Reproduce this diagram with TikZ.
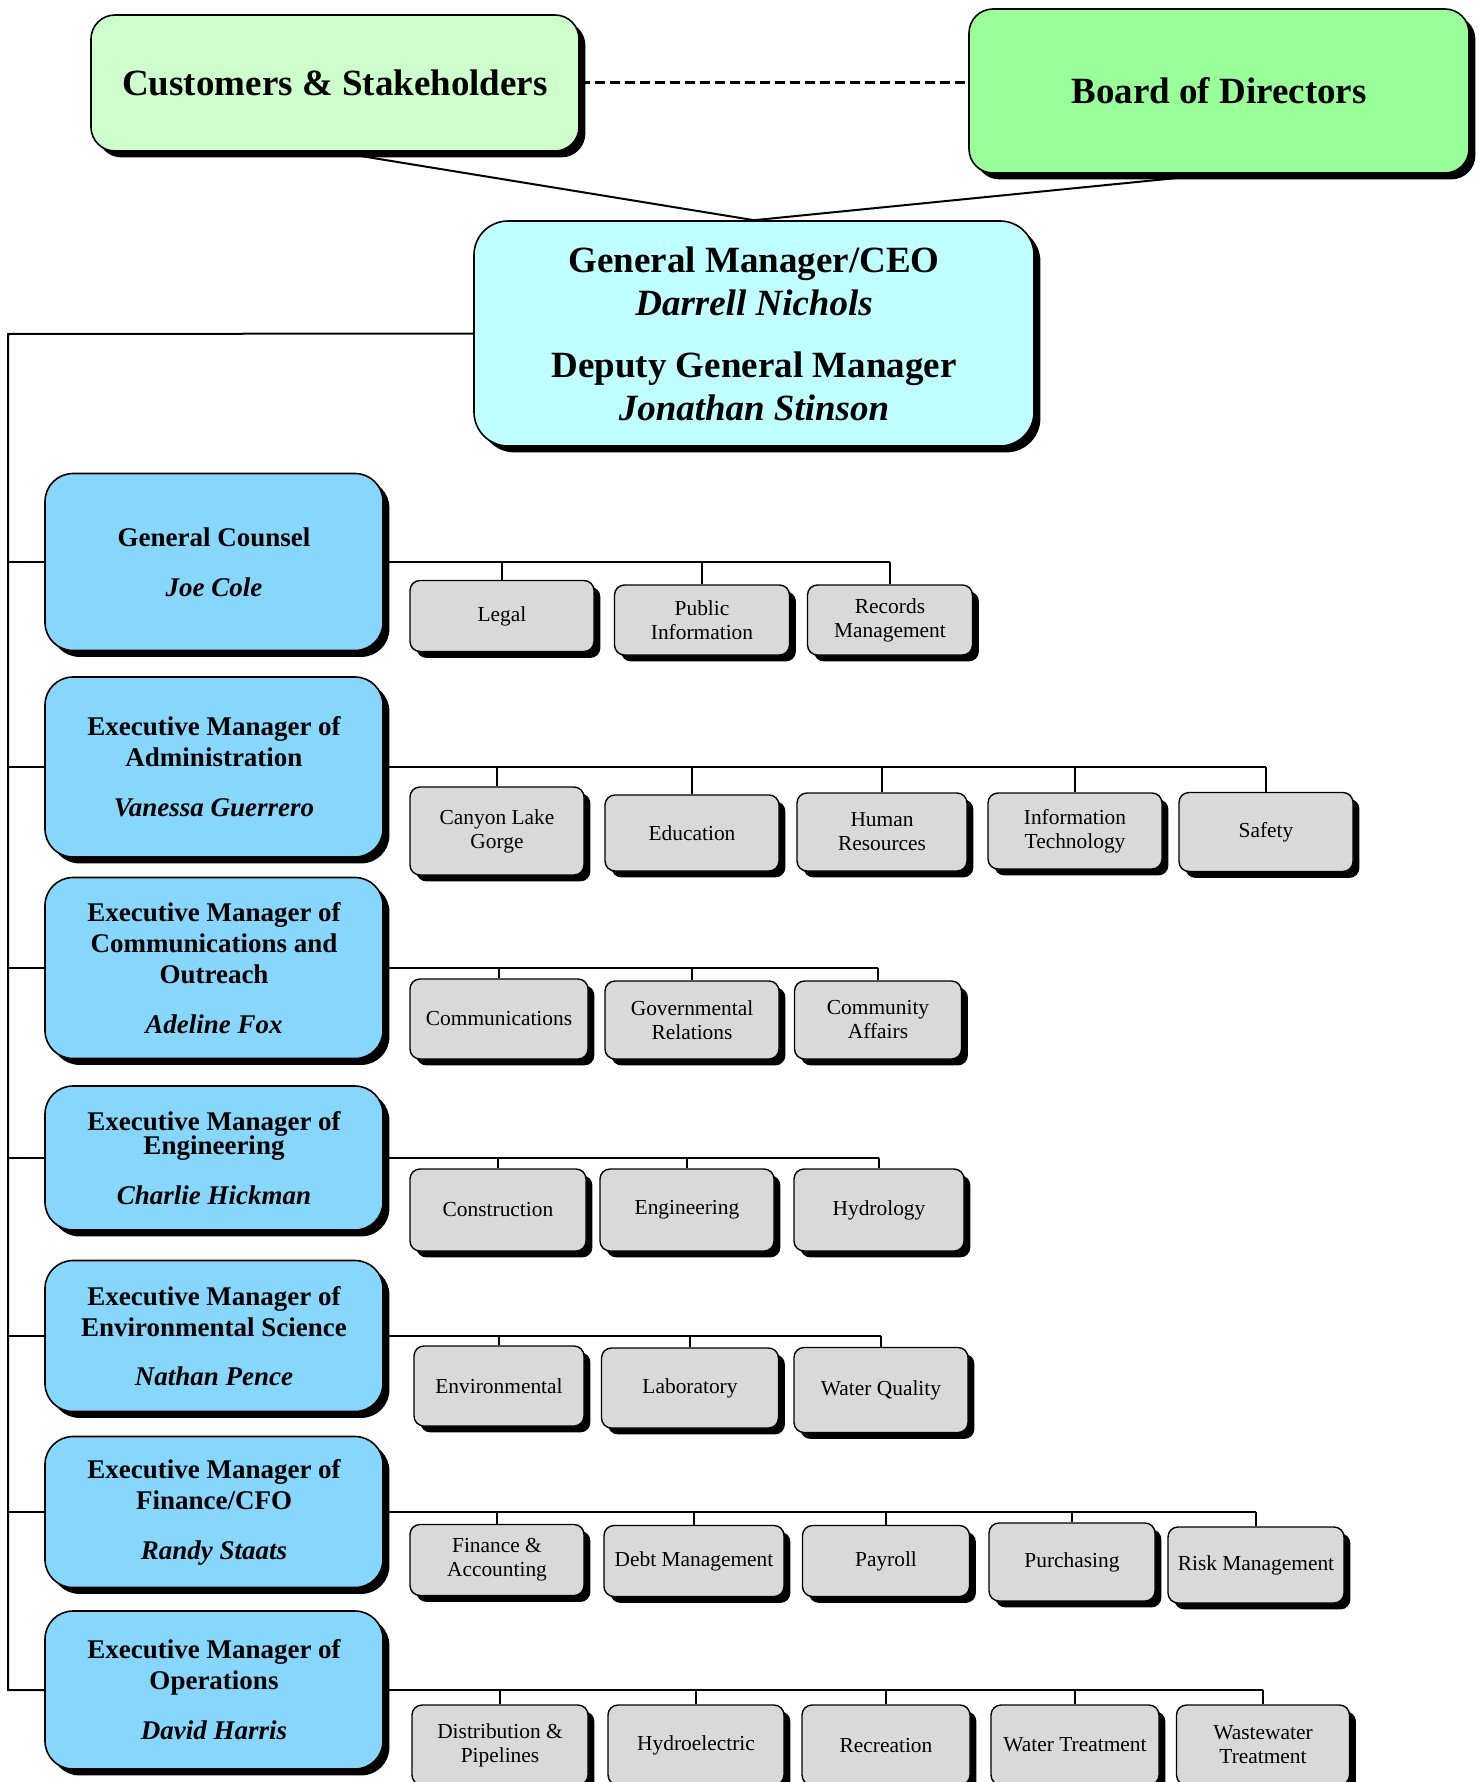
\documentclass[tikz,border=0pt]{standalone}
\usepackage{fontspec}
\setmainfont{Liberation Serif}
\usetikzlibrary{shadows,backgrounds}

\definecolor{custgreen}{HTML}{CCFFCC}
\definecolor{boardgreen}{HTML}{99FF99}
\definecolor{gmcyan}{HTML}{C0FFFF}
\definecolor{execblue}{HTML}{87D7FD}
\definecolor{unitgray}{HTML}{D9D9D9}

\tikzset{
  shadowed/.style={drop shadow={shadow xshift=3.2pt,shadow yshift=-3.2pt,opacity=1,fill=black}},
  topbox/.style={draw,line width=.8pt,rounded corners=12pt,shadowed,
    font=\bfseries\fontsize{18.5}{21.5}\selectfont},
  gmbox/.style={draw,line width=.8pt,rounded corners=17pt,shadowed,fill=gmcyan,
    align=center,font=\bfseries\fontsize{18.5}{21.5}\selectfont},
  execbox/.style={draw,line width=.8pt,rounded corners=14pt,shadowed,fill=execblue,
    align=center,minimum width=169pt,font=\bfseries\fontsize{13.5}{15.5}\selectfont},
  unitbox/.style={draw,line width=.7pt,rounded corners=5pt,shadowed,fill=unitgray,
    align=center,minimum width=87pt,font=\fontsize{10.7}{12}\selectfont},
  link/.style={line width=1pt}
}

\begin{document}
\begin{tikzpicture}[x=.5pt,y=-.5pt]
  \useasboundingbox (0,0) rectangle (1478,1782);
  \clip (0,0) rectangle (1478,1782);

  \node[topbox,fill=custgreen,minimum width=244pt,minimum height=68pt]
    (cust) at (335,83) {Customers \& Stakeholders};
  \node[topbox,fill=boardgreen,minimum width=250pt,minimum height=82pt]
    (board) at (1219,91) {Board of Directors};
  \node[gmbox,minimum width=280pt,minimum height=112.5pt] (gm) at (754,333.5)
    {General Manager/CEO\\\textit{Darrell Nichols}\\[9.5pt]
     Deputy General Manager\\\textit{Jonathan Stinson}};

  \draw[line width=1.5pt,dash pattern=on 5pt off 2.5pt] (cust.east) -- (cust.east -| board.west);
  \begin{scope}[on background layer]
    \draw[link] (cust.south) -- (gm.north);
    \draw[link] (board.south) -- (gm.north);
  \end{scope}

  % executive managers
  \node[execbox,minimum height=88.5pt] (gc) at (214,562)
    {General Counsel\\[9.5pt]\textit{Joe Cole}};
  \node[execbox,minimum height=90pt] (adm) at (214,767)
    {Executive Manager of\\Administration\\[9.5pt]\textit{Vanessa Guerrero}};
  \node[execbox,minimum height=90.5pt] (com) at (214,968)
    {Executive Manager of\\Communications and\\Outreach\\[9.5pt]\textit{Adeline Fox}};
  \node[execbox,minimum height=72pt] (eng) at (214,1158)
    {Executive Manager of\\[-3.5pt]Engineering\\[9.5pt]\textit{Charlie Hickman}};
  \node[execbox,minimum height=75.5pt] (env) at (214,1336)
    {Executive Manager of\\Environmental Science\\[9pt]\textit{Nathan Pence}};
  \node[execbox,minimum height=75.5pt] (fin) at (214,1512)
    {Executive Manager of\\Finance/CFO\\[9.5pt]\textit{Randy Staats}};
  \node[execbox,minimum height=79pt] (ops) at (214,1690)
    {Executive Manager of\\Operations\\[9.5pt]\textit{David Harris}};

  \coordinate (trunk) at (8,334);
  \draw[link] (gm.west) -- (trunk) -- (trunk |- ops.west) -- (ops.west);
  \foreach \e in {gc,adm,com,eng,env,fin}
    \draw[link] (trunk |- \e.west) -- (\e.west);

  % units
  \node[unitbox,minimum width=92pt,minimum height=35.5pt] (legal) at (502,616) {Legal};
  \node[unitbox,minimum width=87.5pt,minimum height=35pt] (pubinfo) at (702,620) {Public\\Information};
  \node[unitbox,minimum width=82.5pt,minimum height=35pt] (records) at (890,620) {Records\\Management};

  \node[unitbox,minimum height=44pt] (canyon) at (497,831) {Canyon Lake\\Gorge};
  \node[unitbox,minimum height=38pt] (edu) at (692,833) {Education};
  \node[unitbox,minimum width=85pt,minimum height=39pt] (hr) at (882,832) {Human\\Resources};
  \node[unitbox,minimum height=38pt] (it) at (1075,831) {Information\\Technology};
  \node[unitbox,minimum height=39.5pt] (safety) at (1266,832) {Safety};

  \node[unitbox,minimum width=89pt,minimum height=40pt] (comms) at (499,1019) {Communications};
  \node[unitbox,minimum height=39pt] (gov) at (692,1020) {Governmental\\Relations};
  \node[unitbox,minimum width=83.5pt,minimum height=39pt] (affairs) at (878,1020) {Community\\Affairs};

  \node[unitbox,minimum width=88pt,minimum height=41pt] (constr) at (498,1210) {Construction};
  \node[unitbox,minimum height=41pt] (engr) at (687,1210) {Engineering};
  \node[unitbox,minimum width=85pt,minimum height=41pt] (hydro) at (879,1210) {Hydrology};

  \node[unitbox,minimum width=85pt,minimum height=40pt] (envr) at (499,1386) {Environmental};
  \node[unitbox,minimum width=88.5pt,minimum height=40pt] (lab) at (690,1388) {Laboratory};
  \node[unitbox,minimum height=42.5pt] (wq) at (881,1390) {Water Quality};

  \node[unitbox,minimum height=35.5pt] (finacc) at (497,1560) {Finance \&\\Accounting};
  \node[unitbox,minimum width=90pt,minimum height=35.5pt] (debt) at (694,1561) {Debt Management};
  \node[unitbox,minimum width=83.5pt,minimum height=35.5pt] (payroll) at (886,1561) {Payroll};
  \node[unitbox,minimum width=83pt,minimum height=39pt] (purch) at (1072,1562) {Purchasing};
  \node[unitbox,minimum width=88pt,minimum height=38pt] (risk) at (1256,1565) {Risk Management};

  \node[unitbox,minimum width=88pt,minimum height=40pt] (dist) at (500,1745) {Distribution \&\\Pipelines};
  \node[unitbox,minimum width=88pt,minimum height=40pt] (hydel) at (696,1745) {Hydroelectric};
  \node[unitbox,minimum width=84pt,minimum height=40pt] (recr) at (886,1745) {Recreation};
  \node[unitbox,minimum width=84pt,minimum height=40pt] (wt) at (1075,1745) {Water Treatment};
  \node[unitbox,minimum width=86.5pt,minimum height=40pt] (wwt) at (1263,1745) {Wastewater\\Treatment};

  \draw[link] (gc.east) -- (records.north |- gc.east);
  \foreach \u in {legal,pubinfo,records}
    \draw[link] (\u.north) -- (\u.north |- gc.east);
  \draw[link] (adm.east) -- (safety.north |- adm.east);
  \foreach \u in {canyon,edu,hr,it,safety}
    \draw[link] (\u.north) -- (\u.north |- adm.east);
  \draw[link] (com.east) -- (affairs.north |- com.east);
  \foreach \u in {comms,gov,affairs}
    \draw[link] (\u.north) -- (\u.north |- com.east);
  \draw[link] (eng.east) -- (hydro.north |- eng.east);
  \foreach \u in {constr,engr,hydro}
    \draw[link] (\u.north) -- (\u.north |- eng.east);
  \draw[link] (env.east) -- (wq.north |- env.east);
  \foreach \u in {envr,lab,wq}
    \draw[link] (\u.north) -- (\u.north |- env.east);
  \draw[link] (fin.east) -- (risk.north |- fin.east);
  \foreach \u in {finacc,debt,payroll,purch,risk}
    \draw[link] (\u.north) -- (\u.north |- fin.east);
  \draw[link] (ops.east) -- (wwt.north |- ops.east);
  \foreach \u in {dist,hydel,recr,wt,wwt}
    \draw[link] (\u.north) -- (\u.north |- ops.east);
\end{tikzpicture}
\end{document}
